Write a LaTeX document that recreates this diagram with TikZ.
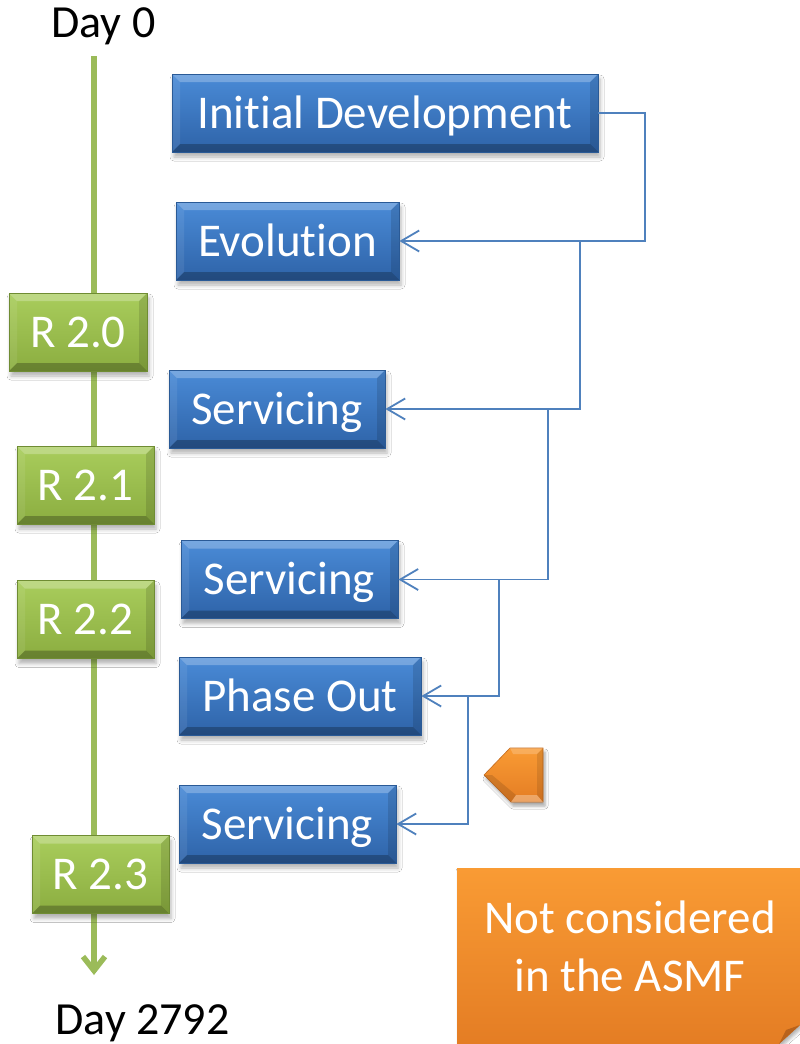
\documentclass[tikz,border=0pt]{standalone}
\usepackage{fontspec}
\setmainfont{Carlito}[Ligatures={NoCommon}]
\usetikzlibrary{arrows.meta,shadows.blur,calc}
\definecolor{bluetop}{HTML}{4A8BD7}
\definecolor{bluebot}{HTML}{2E63A8}
\definecolor{blueedge}{HTML}{2A5A96}
\definecolor{greentop}{HTML}{A9CD5C}
\definecolor{greenbot}{HTML}{8BAD40}
\definecolor{greenedge}{HTML}{6F8C33}
\definecolor{tline}{HTML}{9BBB59}
\definecolor{connc}{HTML}{4F81BD}
\definecolor{orangetop}{HTML}{F99B34}
\definecolor{orangebot}{HTML}{E47D24}
\definecolor{orangefold}{HTML}{B8621C}
\tikzset{
  bevel/.style={path picture={
    \fill[white,opacity=.25] (path picture bounding box.north west) -- (path picture bounding box.north east)
      -- ([shift={(-8pt,-8pt)}]path picture bounding box.north east) -- ([shift={(8pt,-8pt)}]path picture bounding box.north west) -- cycle;
    \fill[black,opacity=.25] (path picture bounding box.south west) -- (path picture bounding box.south east)
      -- ([shift={(-8pt,8pt)}]path picture bounding box.south east) -- ([shift={(8pt,8pt)}]path picture bounding box.south west) -- cycle;
    \fill[white,opacity=.08] (path picture bounding box.north west) -- (path picture bounding box.south west)
      -- ([shift={(8pt,8pt)}]path picture bounding box.south west) -- ([shift={(8pt,-8pt)}]path picture bounding box.north west) -- cycle;
    \fill[black,opacity=.12] (path picture bounding box.north east) -- (path picture bounding box.south east)
      -- ([shift={(-8pt,8pt)}]path picture bounding box.south east) -- ([shift={(-8pt,-8pt)}]path picture bounding box.north east) -- cycle;
  }},
  boxbase/.style={rectangle, inner sep=0pt, text=white, font=\fontsize{47}{56}\selectfont,
    text height=30pt, text depth=0pt, minimum height=78pt, line width=0.8pt, bevel,
    blur shadow={shadow xshift=2pt, shadow yshift=-5pt, shadow blur radius=4pt, shadow opacity=30}},
  bluebox/.style={boxbase, top color=bluetop, bottom color=bluebot, draw=blueedge},
  greenbox/.style={boxbase, top color=greentop, bottom color=greenbot, draw=greenedge},
  daylabel/.style={font=\fontsize{46}{50}\selectfont, text height=28pt, text depth=0pt, inner sep=0pt},
  conn/.style={draw=connc, line width=1.8pt, -{Straight Barb[length=18pt,width=21pt]}},
  plainconn/.style={draw=connc, line width=1.8pt},
}
\begin{document}
\begin{tikzpicture}[x=1pt,y=-1pt]
\useasboundingbox (0,0) rectangle (800,1044);
\fill[white] (0,0) rectangle (800,1044);

% labels
\node[daylabel] (day0) at (103.5,23.5) {Day 0};
\node[daylabel] (dayend) at (142.5,1020) {Day 2792};

% timeline
\coordinate (tstart) at (94,56);
\coordinate (tend) at (94,975);
\draw[tline, line width=5.5pt, -{Straight Barb[length=14pt,width=22pt]}] (tstart) -- (tend);

% blue phase boxes
\node[bluebox, minimum width=426pt] (init)  at (385,113)   {Initial Development};
\node[bluebox, minimum width=223pt] (evo)   at (287.5,241) {Evolution};
\node[bluebox, minimum width=216pt] (serv1) at (277,409)   {Servicing};
\node[bluebox, minimum width=217pt] (serv2) at (289.5,579.5) {Servicing};
\node[bluebox, minimum width=242pt] (phase) at (300,696)   {Phase Out};
\node[bluebox, minimum width=217pt] (serv3) at (287.5,824) {Servicing};

% green release boxes
\node[greenbox, minimum width=138pt] (r20) at (78,332)    {R 2.0};
\node[greenbox, minimum width=137pt] (r21) at (85.5,485)  {R 2.1};
\node[greenbox, minimum width=137pt] (r22) at (85.5,619.5) {R 2.2};
\node[greenbox, minimum width=137pt] (r23) at (100.5,874.5) {R 2.3};

% connectors
\coordinate (c1) at (645,241);
\coordinate (b1) at (580,241);
\coordinate (b2) at (548,409);
\coordinate (b3) at (499,579.5);
\coordinate (b4) at (468,696);
\draw[plainconn] (init.east) -| (c1) -- (b1);
\draw[conn] (b1) -- (evo.east);
\draw[conn] (b1) |- (serv1.east);
\draw[conn] (b2) |- (serv2.east);
\draw[conn] (b3) |- (phase.east);
\draw[conn] (b4) |- (serv3.east);

% orange pentagon
\shade[top color=orangetop, bottom color=orangebot, draw=orangebot!85!black, line width=0.6pt,
  blur shadow={shadow xshift=2pt, shadow yshift=-4pt, shadow blur radius=3pt, shadow opacity=35}]
  (484,775) -- (510,748) -- (543,748) -- (543,802) -- (511,802) -- cycle;
\fill[white,opacity=.2] (510,748) -- (543,748) -- (537,754) -- (513,754) -- cycle;
\fill[white,opacity=.3] (511,802) -- (543,802) -- (537,795) -- (516,795) -- cycle;
\fill[black,opacity=.12] (484,775) -- (511,802) -- (516,795) -- (492,775) -- cycle;
\fill[black,opacity=.1] (543,748) -- (543,802) -- (537,795) -- (537,754) -- cycle;

% orange note
\shade[top color=orangetop, bottom color=orangebot,
  blur shadow={shadow xshift=2pt, shadow yshift=-3pt, shadow blur radius=3pt, shadow opacity=30}]
  (457,868) -- (800,868) -- (800,1025) -- (779,1044) -- (457,1044) -- cycle;
\fill[orangefold] (779,1044) -- (786,1030) -- (800,1025) -- cycle;
\node[text=white, font=\fontsize{47}{58}\selectfont, align=center, inner sep=0pt] (note) at (630,946)
  {Not considered\\in the ASMF};
\end{tikzpicture}
\end{document}
